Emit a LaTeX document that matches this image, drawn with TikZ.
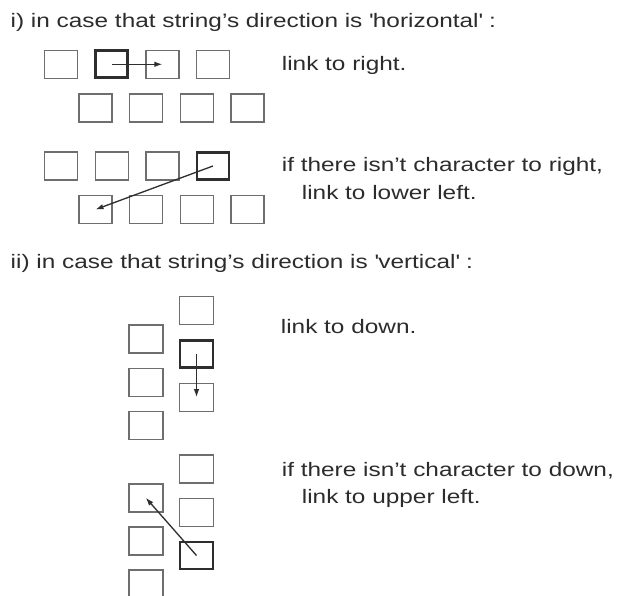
\documentclass[tikz,border=0pt]{standalone}
\usepackage{fontspec}
\setmainfont[FakeStretch=1.25]{Liberation Sans}
\usetikzlibrary{arrows.meta}
\definecolor{boxgray}{HTML}{6E6E6E}
\definecolor{boldgray}{HTML}{2E2E2E}
\definecolor{txtgray}{HTML}{2C2C2C}
\tikzset{
  cell/.style={draw=boxgray, line width=1.4pt, minimum width=33pt, minimum height=28pt, inner sep=0pt},
  vcell/.style={cell, minimum width=34pt},
  curcell/.style={draw=boldgray, line width=2.8pt, minimum width=32pt, minimum height=27pt, inner sep=0pt},
  vcurcell/.style={curcell, minimum width=33pt},
  linkarrow/.style={draw=boldgray, line width=1.3pt, -{Latex[length=8pt,width=5.5pt]}},
  lbl/.style={anchor=base west, inner sep=0pt, text=txtgray, font=\fontsize{19.5}{23}\selectfont},
}
\begin{document}
\begin{tikzpicture}[x=1pt,y=-1pt]
\useasboundingbox (0,0) rectangle (621,596);
\clip (0,0) rectangle (621,596);
\fill[white] (0,0) rectangle (621,596);

% headers
\node[lbl] (h1) at (10.5,28) {i) in case that string's direction is \textquotesingle horizontal\textquotesingle\ :};
\node[lbl] (h2) at (10.5,268) {ii) in case that string's direction is \textquotesingle vertical\textquotesingle\ :};

% horizontal case 1
\node[cell] (a1) at (61.2,64.3) {};
\node[curcell] (a2) at (111.8,64.3) {};
\node[cell] (a3) at (162.4,64.3) {};
\node[cell] (a4) at (213.0,64.3) {};
\node[cell] (b1) at (95.5,108) {};
\node[cell] (b2) at (146.1,108) {};
\node[cell] (b3) at (196.7,108) {};
\node[cell] (b4) at (247.3,108) {};
\draw[linkarrow] (a2.center) -- (a3.center);
\node[lbl] (t1) at (281.7,70.7) {link to right.};

% horizontal case 2
\node[cell] (c1) at (61.2,166) {};
\node[cell] (c2) at (111.8,166) {};
\node[cell] (c3) at (162.4,166) {};
\node[curcell] (c4) at (213.0,166) {};
\node[cell] (d1) at (95.5,209.5) {};
\node[cell] (d2) at (146.1,209.5) {};
\node[cell] (d3) at (196.7,209.5) {};
\node[cell] (d4) at (247.3,209.5) {};
\draw[linkarrow] (c4.center) -- (d1.center);
\node[lbl] (t2) at (281.7,171.7) {if there isn't character to right,};
\node[lbl] (t3) at (301.7,199.3) {link to lower left.};

% vertical case 1
\node[vcell] (e1) at (196.5,310.3) {};
\node[vcurcell] (e2) at (196.5,354.2) {};
\node[vcell] (e3) at (196.5,397.2) {};
\node[vcell] (f1) at (145.8,338.8) {};
\node[vcell] (f2) at (145.8,382.5) {};
\node[vcell] (f3) at (145.8,425.5) {};
\draw[linkarrow] (e2.center) -- (e3.center);
\node[lbl] (t4) at (280.7,333.3) {link to down.};

% vertical case 2
\node[vcell] (g1) at (196.5,468.8) {};
\node[vcell] (g2) at (196.5,512.2) {};
\node[vcurcell] (g3) at (196.5,555.5) {};
\node[vcell] (k1) at (145.8,497.8) {};
\node[vcell] (k2) at (145.8,540.8) {};
\node[vcell] (k3) at (145.8,584) {};
\draw[linkarrow] (g3.center) -- (k1.center);
\node[lbl] (t5) at (281.7,476.7) {if there isn't character to down,};
\node[lbl] (t6) at (301.7,503.3) {link to upper left.};
\end{tikzpicture}
\end{document}
